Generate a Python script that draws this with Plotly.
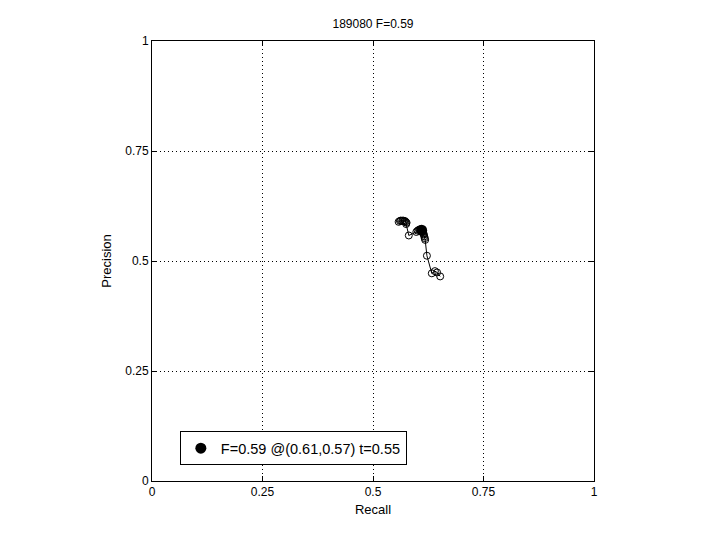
import plotly.graph_objects as go

recall = [0.558, 0.561, 0.563, 0.566, 0.568, 0.570, 0.572, 0.574, 0.576, 0.575,
          0.581,
          0.598, 0.601, 0.604, 0.607, 0.610, 0.612, 0.613, 0.614, 0.615, 0.616, 0.617, 0.618,
          0.622, 0.633, 0.640, 0.645, 0.652]
precision = [0.589, 0.591, 0.592, 0.591, 0.592, 0.590, 0.591, 0.589, 0.587, 0.584,
             0.558,
             0.566, 0.569, 0.571, 0.572, 0.571, 0.569, 0.566, 0.563, 0.560, 0.556, 0.552, 0.548,
             0.512, 0.472, 0.477, 0.474, 0.465]
best_r = [0.61]
best_p = [0.57]
best_label = "F=0.59 @(0.61,0.57) t=0.55"
title_text = "189080 F=0.59"
ticks = [0, 0.25, 0.5, 0.75, 1]
tick_text = ["0", "0.25", "0.5", "0.75", "1"]

fig = go.Figure()
fig.add_trace(go.Scatter(
    x=recall, y=precision, mode="lines+markers",
    line=dict(color="black", width=1),
    marker=dict(symbol="circle-open", size=7, color="black", line=dict(width=1)),
    showlegend=False,
))
fig.add_trace(go.Scatter(
    x=best_r, y=best_p, mode="markers",
    marker=dict(symbol="circle", size=11, color="black"),
    name=best_label, showlegend=True,
))

axis_common = dict(
    range=[0, 1], tickvals=ticks, ticktext=tick_text,
    showgrid=True, gridcolor="black", griddash="1px,3px", gridwidth=1,
    showline=True, linecolor="black", linewidth=1, mirror="allticks",
    ticks="inside", ticklen=5, tickcolor="black",
    zeroline=False, tickfont=dict(size=12, color="black"),
)

fig.update_layout(
    width=720, height=540,
    paper_bgcolor="white", plot_bgcolor="white",
    font=dict(family="Liberation Sans, Arial, sans-serif", size=12, color="black"),
    margin=dict(l=144, r=134, t=33, b=67),
    title=dict(text=title_text, x=(144 + 221) / 720, xanchor="center", y=0.97, yanchor="middle",
               font=dict(size=12)),
    xaxis=dict(axis_common, title=dict(text="Recall", standoff=6, font=dict(size=13))),
    yaxis=dict(axis_common, title=dict(text="Precision", standoff=10, font=dict(size=13))),
    legend=dict(x=0.063, y=0.113, xanchor="left", yanchor="top",
                bordercolor="black", borderwidth=1, bgcolor="white",
                font=dict(size=14.5), itemwidth=30,
                tracegroupgap=0),
    showlegend=True,
)

fig.write_html("out.html")
